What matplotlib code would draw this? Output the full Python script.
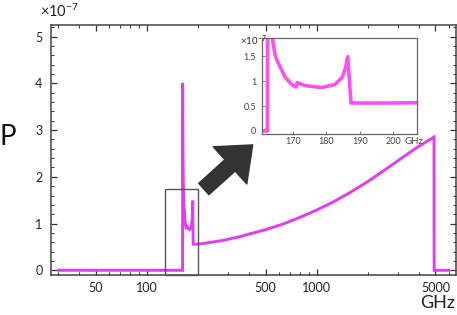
import numpy as np
import matplotlib
matplotlib.use("Agg")
from matplotlib import pyplot as plt
from matplotlib.patches import Rectangle
from matplotlib.ticker import FixedLocator, MultipleLocator, NullFormatter

plt.rcParams['font.family'] = ['Lato', 'DejaVu Sans']
plt.rcParams['mathtext.fontset'] = 'custom'
plt.rcParams['mathtext.rm'] = 'Lato'
plt.rcParams['mathtext.it'] = 'Lato:italic'

# frequency in GHz, P in units of 1e-7
freq = [30.3, 162.4, 162.5, 163.3, 163.9, 164.7, 165.7, 167.7, 169.7, 171.0, 171.3,
        173.6, 178.6, 182.6, 184.8, 185.8, 186.4, 187.4, 200, 206, 224, 281,
        352, 404, 500, 634, 794, 1000, 1247, 1563, 1960, 2455, 3078, 3857,
        4900, 4910, 6000]
P = [0, 0, 4.0, 2.4, 1.86, 1.52, 1.35, 1.08, 0.93, 0.88, 0.97,
     0.91, 0.87, 0.93, 1.08, 1.28, 1.49, 0.56, 0.56, 0.565, 0.585, 0.64,
     0.72, 0.78, 0.87, 0.99, 1.13, 1.29, 1.46, 1.66, 1.88, 2.12, 2.37, 2.62,
     2.85, 0, 0]

main_xticks = [50, 100, 500, 1000, 5000]
main_yticks = [0, 1, 2, 3, 4, 5]
inset_xticks = [170, 180, 190, 200]
inset_yticks = [0, 0.5, 1, 1.5]
inset_ylabels = ["0", "0.5", "1", "1.5"]

fig = plt.figure(figsize=(4.57, 3.15), dpi=100)
ax = fig.add_axes([0.111, 0.127, 0.886, 0.794])

ax.plot(freq, P, color="#e23cf2", lw=2.1, solid_joinstyle="miter")
ax.set_xscale("log")
ax.set_xlim(27.2, 6570)
ax.set_ylim(-0.1, 5.25)

ax.xaxis.set_major_locator(FixedLocator(main_xticks))
ax.set_xticklabels([str(t) for t in main_xticks])
ax.xaxis.set_minor_formatter(NullFormatter())
ax.yaxis.set_major_locator(FixedLocator(main_yticks))
ax.yaxis.set_minor_locator(MultipleLocator(0.2))
ax.tick_params(which="both", direction="in", top=True, right=True, colors="#333333")
ax.tick_params(which="major", length=4, width=0.9, labelsize=9, pad=6, labelcolor="#222222")
ax.tick_params(which="minor", length=2, width=0.7)
ax.tick_params(axis="x", which="major", pad=5)
for s in ax.spines.values():
    s.set_color("#444444")
    s.set_linewidth(1.1)

ax.text(-0.105, 0.552, "P", transform=ax.transAxes, fontsize=20,
        ha="center", va="center", color="#111111")
ax.text(0.998, -0.112, "GHz", transform=ax.transAxes, fontsize=13,
        ha="right", va="center", color="#222222")
ax.text(-0.027, 1.031, r"×10$^{-7}$", transform=ax.transAxes, fontsize=10.5,
        ha="left", va="baseline", color="#222222")

# zoom box
ax.add_patch(Rectangle((128.8, -0.1), 200 - 128.8, 1.75 + 0.1, fill=False,
                       edgecolor="#555555", lw=1.0, clip_on=False, zorder=3))

# big arrow towards the inset
ax.annotate("", xy=(0.553, 0.540), xytext=(0.446, 0.400),
            xycoords="figure fraction", textcoords="figure fraction",
            arrowprops=dict(arrowstyle="simple,head_length=1.1,head_width=1.8,tail_width=0.55",
                            mutation_scale=20, color="#333333", shrinkA=0, shrinkB=0))

# inset
axi = fig.add_axes([0.5726, 0.5737, 0.339, 0.305])
axi.plot(freq, P, color="#ff4ff0", lw=2.6)
axi.set_xlim(160.7, 207)
axi.set_ylim(-0.067, 1.86)
axi.xaxis.set_major_locator(FixedLocator(inset_xticks))
axi.set_xticklabels([str(t) for t in inset_xticks])
axi.yaxis.set_major_locator(FixedLocator(inset_yticks))
axi.set_yticklabels(inset_ylabels)
axi.tick_params(direction="in", length=2, width=0.6, colors="#666666",
                labelsize=6.5, labelcolor="#444444")
axi.tick_params(axis="x", pad=2)
axi.tick_params(axis="y", pad=4)
for s in axi.spines.values():
    s.set_color("#666666")
    s.set_linewidth(0.9)
axi.text(0.92, -0.07, "GHz", transform=axi.transAxes, fontsize=7,
         ha="left", va="center", color="#444444")
axi.text(-0.14, 0.975, r"×10$^{-7}$", transform=axi.transAxes, fontsize=7,
         ha="left", va="center", color="#222222")

fig.savefig("out.png", dpi=100)
